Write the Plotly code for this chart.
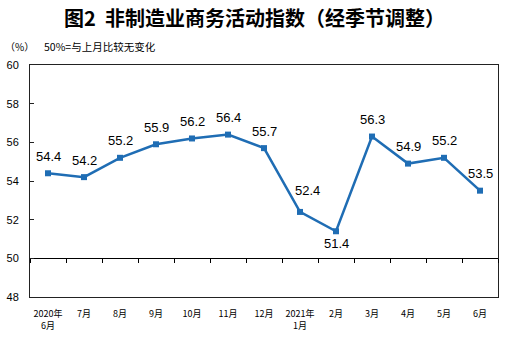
import plotly.graph_objects as go

months = ["2020年<br>6月", "7月", "8月", "9月", "10月", "11月", "12月",
          "2021年<br>1月", "2月", "3月", "4月", "5月", "6月"]
values = [54.4, 54.2, 55.2, 55.9, 56.2, 56.4, 55.7, 52.4, 51.4, 56.3, 54.9, 55.2, 53.5]
y_ticks = [48, 50, 52, 54, 56, 58, 60]

BLUE = "#1f6db4"
idx = list(range(len(months)))

fig = go.Figure()
fig.add_trace(go.Scatter(
    x=idx, y=values, mode="lines+markers",
    line=dict(color=BLUE, width=2.5),
    marker=dict(symbol="square", size=6, color=BLUE),
    hoverinfo="skip", showlegend=False,
))
# invisible trace to carry the baseline axis at 50
fig.add_trace(go.Scatter(x=[idx[0], idx[-1]], y=[50, 50], xaxis="x2", mode="lines",
                         line=dict(width=0), showlegend=False, hoverinfo="skip"))

label_font = dict(family="Liberation Sans, Arial", size=13, color="#000")
for i, v in zip(idx, values):
    below = v == min(values)
    xs = 7 if i == 7 else 0
    fig.add_annotation(x=i, y=v, text=f"{v:.1f}", showarrow=False,
                       font=label_font, xshift=xs,
                       yshift=-12 if below else (21 if i == 7 else 17))

fig.update_layout(
    width=509, height=337,
    margin=dict(l=30, r=11, t=65, b=40, autoexpand=False),
    paper_bgcolor="white", plot_bgcolor="white",
    title=dict(text="<b>图2  非制造业商务活动指数（经季节调整）</b>",
               x=0.5, xanchor="center", y=0.945, yanchor="middle",
               font=dict(family="Noto Sans CJK SC", size=20, color="#000")),
    xaxis=dict(range=[-0.5, len(months) - 0.5], tickmode="array", tickvals=idx,
               ticktext=months, showline=True, linecolor="#222", linewidth=1,
               mirror=True, ticks="", showgrid=False, zeroline=False,
               ticklabelstandoff=8, automargin=False,
               tickfont=dict(family="Noto Sans CJK SC", size=9, color="#000")),
    xaxis2=dict(range=[-0.5, len(months) - 0.5], overlaying="x", anchor="free",
                position=(50 - y_ticks[0]) / (y_ticks[-1] - y_ticks[0]),
                showline=True, linecolor="#000", linewidth=1, automargin=False,
                tickmode="array", tickvals=[i - 0.5 for i in idx] + [idx[-1] + 0.5],
                ticks="outside", ticklen=4, tickcolor="#000", showticklabels=False,
                showgrid=False, zeroline=False),
    yaxis=dict(range=[y_ticks[0], y_ticks[-1]], tickvals=y_ticks,
               showline=True, linecolor="#222", linewidth=1, mirror=True,
               ticks="inside", ticklen=4, tickcolor="#222", showgrid=False,
               zeroline=False, ticklabelstandoff=8, automargin=False,
               tickfont=dict(family="Liberation Sans, Arial", size=11, color="#000")),
)

fig.add_annotation(xref="paper", yref="paper", x=-27 / 468, y=1.08, xanchor="left",
                   yanchor="middle", showarrow=False, text="（%）",
                   font=dict(family="Noto Sans CJK SC", size=10, color="#000"))
fig.add_annotation(xref="paper", yref="paper", x=12 / 468, y=1.08, xanchor="left",
                   yanchor="middle", showarrow=False, text="50%=与上月比较无变化",
                   font=dict(family="Noto Sans CJK SC", size=10.5, color="#000"))

fig.write_html("out.html")
